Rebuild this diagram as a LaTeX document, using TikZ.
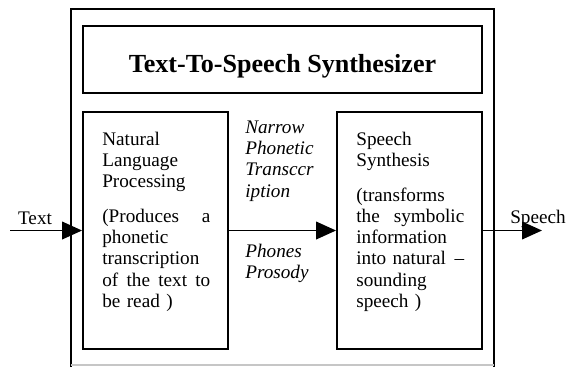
\documentclass[tikz,border=0pt]{standalone}
\usepackage{fontspec}
\setmainfont{Liberation Serif}
\usetikzlibrary{arrows.meta,positioning,calc}
\newcommand{\bodyfont}{\fontsize{12}{13.3}\selectfont}

\begin{document}
\begin{tikzpicture}[x=0.625pt, y=-0.625pt,
    box/.style={draw, rectangle, line width=1.2pt, inner sep=0pt},
    body/.style={anchor=north west, inner sep=0pt, text width=67.5pt, align=left, font=\bodyfont},
    mid/.style={anchor=north west, inner sep=0pt, align=left, font=\bodyfont\itshape},
    flow/.style={line width=1.2pt, -{Triangle[length=12.5pt,width=11pt]}}]
    \useasboundingbox (0,0) rectangle (572,367);
    % ---- outer frame, open at the bottom
    \draw[line width=1.2pt] (71,367) -- (71,9) -- (494,9) -- (494,367);
    \draw[gray!45, line width=0.8pt] (71,365) -- (494,365);
    % ---- title
    \node[box, minimum width=249.4pt, minimum height=41.9pt] (title) at (282.5,59.5) {};
    \node[font=\fontsize{16.3}{18}\selectfont\bfseries] (tts) at (282.5,66)
      {Text-To-Speech Synthesizer};
    % ---- the two stages
    \node[box, minimum width=90.6pt, minimum height=148.1pt] (nlp) at (155.5,230.5) {};
    \node[box, minimum width=90.6pt, minimum height=148.1pt] (ss)  at (409.5,230.5) {};
    \node[body] (nlptxt) at (102,131.5)
      {Natural\\Language\\Processing\\[8.4pt]
       (Produces\hfill a\\phonetic\\transcription\\of\hfill the\hfill text\hfill to\\be read )};
    \node[body] (sstxt) at (356,131.5)
      {Speech\\Synthesis\\[8.4pt]
       (transforms\\the\hfill symbolic\\information\\into natural\hfill --\\sounding\\speech )};
    % ---- what passes between them
    \node[mid] (narrow) at (245,120.5) {Narrow\\Phonetic\\Transccr\\iption};
    \node[mid] (phones) at (245,243.5) {Phones\\Prosody};
    % ---- input and output
    \node[font=\bodyfont] (textlbl)   at (35,218)  {Text};
    \node[font=\bodyfont] (speechlbl) at (538,219) {Speech};
    \coordinate (tin)  at (10,230.5);
    \coordinate (tout) at (542,230.5);
    \foreach \u/\v in {tin/nlp.west, nlp.east/ss.west, ss.east/tout}
      { \draw[flow] (\u) -- (\v); }
\end{tikzpicture}
\end{document}
